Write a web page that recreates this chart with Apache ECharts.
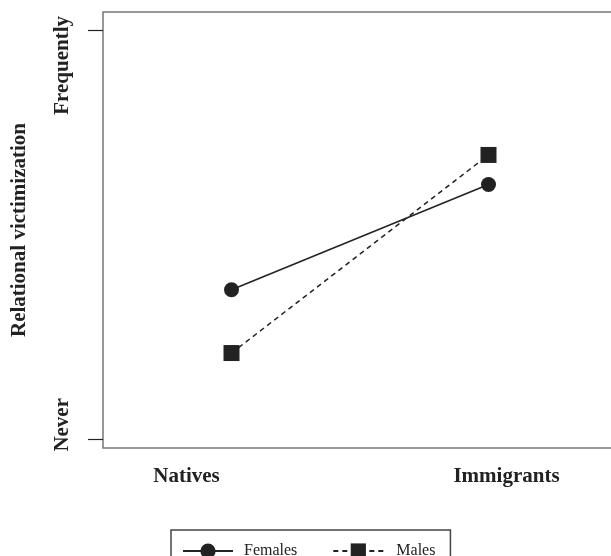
<!DOCTYPE html>
<html>
<head>
<meta charset="utf-8">
<script src="https://cdn.jsdelivr.net/npm/echarts@6/dist/echarts.min.js"></script>
<style>
  html, body { margin: 0; padding: 0; background: #fff; }
  #chart { width: 611px; height: 556px; }
</style>
</head>
<body>
<div id="chart"></div>
<script>
// groups on the x axis (points) and where their names sit under the box
var groups = ['Natives', 'Immigrants'];
var groupPos = [1, 2];
var groupLabelPos = [0.825, 2.07];

// y scale: 1 = Never, 5 = Frequently
var yTickValues = [1, 5];
var yTickLabels = ['Never', 'Frequently'];

// estimated means
var females = [2.46, 3.49];
var males = [1.84, 3.78];

var font = 'Liberation Serif';
var ink = '#222';

function toPoints(vals) {
  return vals.map(function (v, i) { return [groupPos[i], v]; });
}

var myChart = echarts.init(document.getElementById('chart'));

myChart.setOption({
  animation: false,
  backgroundColor: '#fff',
  grid: {
    show: true,
    outerBoundsMode: 'none',
    containLabel: false,
    left: 103, top: 12, right: -6, bottom: 108,
    borderColor: '#777', borderWidth: 1.5
  },
  xAxis: {
    type: 'value', min: 0.5, max: 2.5,
    axisLine: { show: false }, axisTick: { show: false }, splitLine: { show: false },
    axisLabel: {
      customValues: groupLabelPos,
      margin: 18,
      color: ink, fontFamily: font, fontSize: 21, fontWeight: 'bold',
      formatter: function (v) {
        var best = 0;
        groupLabelPos.forEach(function (p, i) {
          if (Math.abs(p - v) < Math.abs(groupLabelPos[best] - v)) best = i;
        });
        return groups[best];
      }
    }
  },
  yAxis: {
    type: 'value', min: 0.91, max: 5.18,
    axisLine: { show: false }, splitLine: { show: false },
    axisTick: { show: true, length: 15, customValues: yTickValues, lineStyle: { color: ink, width: 1.2 } },
    axisLabel: {
      customValues: yTickValues,
      rotate: 90, align: 'center', verticalAlign: 'bottom', margin: 30,
      color: ink, fontFamily: font, fontSize: 21, fontWeight: 'bold',
      formatter: function (v) {
        return v === yTickValues[1] ? '{top|' + yTickLabels[1] + '}' : '{bot|' + yTickLabels[0] + '}';
      },
      rich: {
        top: { padding: [0, 70, 0, 0], fontFamily: font, fontSize: 21, fontWeight: 'bold', color: ink },
        bot: { padding: [0, 0, 0, 28], fontFamily: font, fontSize: 21, fontWeight: 'bold', color: ink }
      }
    },
    name: 'Relational victimization',
    nameLocation: 'middle',
    nameGap: 73,
    nameTextStyle: { color: ink, fontFamily: font, fontSize: 21, fontWeight: 'bold' }
  },
  legend: {
    data: ['Females', 'Males'],
    left: 171, top: 530,
    padding: [13, 15, 13, 11],
    itemWidth: 50, itemHeight: 19, itemGap: 35,
    borderColor: '#444', borderWidth: 1.5,
    formatter: function (name) {
      return name === 'Males' ? '{m|' + name + '}' : '{f|' + name + '}';
    },
    textStyle: {
      color: ink, fontFamily: font, fontSize: 16,
      rich: {
        f: { padding: [0, 0, 0, 6], color: ink, fontFamily: font, fontSize: 16 },
        m: { padding: [0, 0, 0, 8], color: ink, fontFamily: font, fontSize: 16 }
      }
    }
  },
  series: [
    {
      name: 'Females', type: 'line',
      data: toPoints(females),
      symbol: 'circle', symbolSize: 15,
      lineStyle: { color: ink, width: 1.5 },
      itemStyle: { color: ink }
    },
    {
      name: 'Males', type: 'line',
      data: toPoints(males),
      symbol: 'rect', symbolSize: 16,
      lineStyle: { color: ink, width: 1.5, type: [5, 4] },
      itemStyle: { color: ink }
    }
  ]
});
</script>
</body>
</html>
